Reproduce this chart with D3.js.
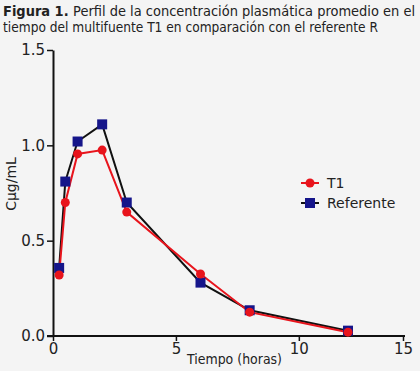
<!DOCTYPE html>
<html><head><meta charset="utf-8">
<script src="https://cdn.jsdelivr.net/npm/d3@7"></script>
<style>
html,body{margin:0;padding:0;background:#f4f4f4;}
svg{display:block;}
text{font-family:"DejaVu Sans",Verdana,sans-serif;}
text.ttl{font-family:"DejaVu Sans Condensed","Liberation Sans Narrow","DejaVu Sans",sans-serif;}
</style></head>
<body>
<svg id="c" width="420" height="371"></svg>
<script>
const times = [0.25, 0.5, 1, 2, 3, 6, 8, 12];
const t1 = [0.32, 0.70, 0.955, 0.975, 0.65, 0.325, 0.125, 0.02];
const referente = [0.357, 0.81, 1.02, 1.11, 0.70, 0.28, 0.135, 0.028];
const xTicks = [0, 5, 10, 15];
const yTicks = [0.0, 0.5, 1.0, 1.5];
const seriesNames = ["T1", "Referente"];

const svg = d3.select("#c");
svg.append("rect").attr("width",420).attr("height",371).attr("fill","#f4f4f4");

// title
const title = svg.append("text").attr("class","ttl").attr("x",3).attr("y",16).attr("font-size",14).attr("fill","#222")
  .attr("textLength",412).attr("lengthAdjust","spacingAndGlyphs");
title.append("tspan").attr("font-weight","bold").text("Figura 1. ");
title.append("tspan").text("Perfil de la concentración plasmática promedio en el");
svg.append("text").attr("class","ttl").attr("x",3).attr("y",32).attr("font-size",14).attr("fill","#222")
  .attr("textLength",375).attr("lengthAdjust","spacingAndGlyphs")
  .text("tiempo del multifuente T1 en comparación con el referente R");

const x = d3.scaleLinear().domain([0,12,15]).range([53,348,403]);
const y = d3.scaleLinear().domain([0,1.5]).range([336,50]);

const fmt = d3.format(".1f");
const yAxis = svg.append("g").attr("transform","translate(53,0)")
  .call(d3.axisLeft(y).tickValues(yTicks).tickFormat(fmt).tickSize(6).tickSizeOuter(0));
const xAxis = svg.append("g").attr("transform","translate(0,336)")
  .call(d3.axisBottom(x).tickValues(xTicks).tickFormat(d3.format("d")).tickSize(5).tickSizeOuter(0));
[yAxis,xAxis].forEach(a=>{
  a.select(".domain").attr("stroke","#111").attr("stroke-width",2);
  a.selectAll(".tick line").attr("stroke","#111").attr("stroke-width",1.5);
  a.selectAll(".tick text").attr("font-size",15).attr("fill","#222")
   .style("font-family","'DejaVu Sans',Verdana,sans-serif");
});
yAxis.selectAll(".tick text").attr("x",-8);
xAxis.selectAll(".tick text").attr("y",7);
xAxis.select(".domain").attr("d","M47,0H405");

svg.append("text").attr("transform","translate(16,184) rotate(-90)").attr("text-anchor","middle")
  .attr("font-size",14).attr("fill","#222").text("Cμg/mL");
svg.append("text").attr("x",187).attr("y",364)
  .attr("font-size",14).attr("fill","#222")
  .attr("textLength",95).attr("lengthAdjust","spacingAndGlyphs").text("Tiempo (horas)");

const line = d3.line().x(d=>x(d[0])).y(d=>y(d[1]));
const refData = times.map((t,i)=>[t,referente[i]]);
const t1Data = times.map((t,i)=>[t,t1[i]]);

svg.append("path").datum(refData).attr("d",line).attr("fill","none").attr("stroke","#111").attr("stroke-width",2);
svg.append("path").datum(t1Data).attr("d",line).attr("fill","none").attr("stroke","#e8141c").attr("stroke-width",2);

const navy = "#15158a", red = "#e8141c";
svg.selectAll(".sq").data(refData).enter().append("rect")
  .attr("x",d=>x(d[0])-5).attr("y",d=>y(d[1])-5).attr("width",10).attr("height",10).attr("fill",navy);
svg.selectAll(".ci").data(t1Data).enter().append("circle")
  .attr("cx",d=>x(d[0])).attr("cy",d=>y(d[1])).attr("r",4.5).attr("fill",red);

// legend
const lg = svg.append("g");
lg.append("line").attr("x1",301).attr("x2",319).attr("y1",183).attr("y2",183).attr("stroke",red).attr("stroke-width",2);
lg.append("circle").attr("cx",310).attr("cy",183).attr("r",4.5).attr("fill",red);
lg.append("text").attr("x",327).attr("y",188).attr("font-size",14).attr("fill","#222").text(seriesNames[0]);
lg.append("line").attr("x1",301).attr("x2",319).attr("y1",203).attr("y2",203).attr("stroke","#111").attr("stroke-width",2);
lg.append("rect").attr("x",305).attr("y",198).attr("width",10).attr("height",10).attr("fill",navy);
lg.append("text").attr("x",327).attr("y",208).attr("font-size",14).attr("fill","#222").text(seriesNames[1]);
</script>
</body></html>
